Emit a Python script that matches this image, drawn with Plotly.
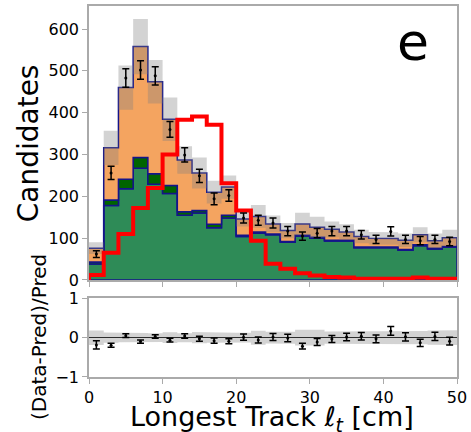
import numpy as np
import plotly.graph_objects as go

# Binning of the longest-track length (cm)
bin_edges = np.arange(0, 51, 2)
bin_centers = bin_edges[:-1] + 1

# Stacked background prediction, one value per 2 cm bin
bkg_seagreen = [38, 178, 218, 267, 229, 207, 155, 160, 125, 148, 104, 112, 108,
                90, 105, 100, 93, 93, 77, 77, 77, 71, 82, 74, 78]
bkg_darkgreen = [5, 13, 23, 26, 25, 19, 8, 6, 8, 7, 3, 3, 2,
                 2, 2, 2, 2, 2, 2, 2, 2, 2, 2, 2, 2]
bkg_orange = [33, 125, 219, 265, 220, 158, 124, 90, 77, 67, 39, 37, 24,
              26, 27, 24, 26, 20, 25, 21, 20, 22, 24, 18, 21]
# Systematic uncertainty on the total prediction
pred_syst = [14, 41, 53, 66, 52, 52, 33, 37, 27, 28, 18, 27, 20,
             18, 27, 25, 19, 18, 16, 15, 15, 16, 18, 17, 19]

# Signal template (red outline)
signal = [12, 65, 110, 172, 220, 300, 383, 391, 371, 231, 166, 94, 39,
          27, 16, 11, 7, 6, 3, 3, 3, 3, 6, 3, 3]

# Observed candidates and their statistical errors
data = [62, 256, 483, 502, 488, 360, 299, 249, 194, 202, 148, 143, 136,
        117, 105, 112, 117, 117, 108, 97, 116, 97, 94, 97, 92]
data_err = [8, 16, 22, 22, 22, 19, 17, 16, 14, 14, 12, 12, 12,
            11, 10, 11, 11, 11, 10, 10, 11, 10, 10, 10, 10]

seagreen = np.array(bkg_seagreen, float)
darkgreen_top = seagreen + np.array(bkg_darkgreen, float)
total = darkgreen_top + np.array(bkg_orange, float)
syst = np.array(pred_syst, float)
obs = np.array(data, float)
obs_err = np.array(data_err, float)

ratio = obs / total - 1.0
ratio_err = obs_err / total
ratio_band = syst / total

FONT = "DejaVu Sans"
NAVY = "#14148a"
FRAME = "#aaaaaa"


def step_path(vals):
    xs = np.repeat(bin_edges, 2)[1:-1]
    ys = np.repeat(np.asarray(vals, float), 2)
    return xs, ys


def band_path(lo, hi):
    xs, yh = step_path(hi)
    _, yl = step_path(lo)
    return np.concatenate([xs, xs[::-1]]), np.concatenate([yh, yl[::-1]])


fig = go.Figure()

# Stacked backgrounds (stepfilled with navy edges)
layers = [
    (np.zeros_like(total), seagreen, "#2e8b57"),
    (seagreen, darkgreen_top, "#006400"),
    (darkgreen_top, total, "#f4a460"),
]
for lo, hi, col in layers:
    px, py = band_path(lo, hi)
    fig.add_trace(go.Scatter(x=px, y=py, mode="lines", fill="toself",
                             fillcolor=col, line=dict(color=NAVY, width=1.5),
                             hoverinfo="skip", showlegend=False,
                             xaxis="x", yaxis="y"))

# Systematic band on the prediction
px, py = band_path(total - syst, total + syst)
fig.add_trace(go.Scatter(x=px, y=py, mode="lines", fill="toself",
                         fillcolor="rgba(128,128,128,0.35)",
                         line=dict(width=0), hoverinfo="skip",
                         showlegend=False, xaxis="x", yaxis="y"))

# Signal outline
sx, sy = step_path(signal)
sx = np.concatenate([[bin_edges[0]], sx, [bin_edges[-1]]])
sy = np.concatenate([[0], sy, [0]])
fig.add_trace(go.Scatter(x=sx, y=sy, mode="lines",
                         line=dict(color="#ff0000", width=4),
                         hoverinfo="skip", showlegend=False,
                         xaxis="x", yaxis="y"))

# Data points
fig.add_trace(go.Scatter(x=bin_centers, y=obs, mode="markers",
                         marker=dict(color="black", size=3),
                         error_y=dict(type="data", array=obs_err,
                                      color="black", thickness=1.5, width=3.5),
                         showlegend=False, xaxis="x", yaxis="y"))

# Ratio panel: band and points
px, py = band_path(-ratio_band, ratio_band)
fig.add_trace(go.Scatter(x=px, y=py, mode="lines", fill="toself",
                         fillcolor="rgba(128,128,128,0.35)",
                         line=dict(width=0), hoverinfo="skip",
                         showlegend=False, xaxis="x2", yaxis="y2"))
fig.add_trace(go.Scatter(x=bin_centers, y=ratio, mode="markers",
                         marker=dict(color="black", size=3),
                         error_y=dict(type="data", array=ratio_err,
                                      color="black", thickness=1.5, width=3.5),
                         showlegend=False, xaxis="x2", yaxis="y2"))

axis_common = dict(showline=True, mirror=True, linecolor=FRAME, linewidth=1.5,
                   ticks="outside", ticklen=5, tickwidth=1.2, tickcolor=FRAME,
                   showgrid=False, zeroline=False, automargin=False,
                   tickfont=dict(family=FONT, size=16, color="black"))

fig.update_layout(
    width=471, height=432,
    margin=dict(l=89, r=14, t=6, b=55),
    paper_bgcolor="white", plot_bgcolor="white",
    font=dict(family=FONT, color="black"),
    xaxis=dict(domain=[0, 1], range=[0, 50], anchor="y",
               tickvals=[0, 10, 20, 30, 40, 50], showticklabels=False,
               **axis_common),
    yaxis=dict(domain=[0.2615, 1], range=[0, 655], anchor="x",
               tickvals=[0, 100, 200, 300, 400, 500, 600], **axis_common),
    xaxis2=dict(domain=[0, 1], range=[0, 50], anchor="y2",
                tickvals=[0, 10, 20, 30, 40, 50], **axis_common),
    yaxis2=dict(domain=[0, 0.212], range=[-1, 1], anchor="x2",
                tickvals=[-1, 0, 1], **axis_common),
)
fig.update_yaxes(zeroline=True, zerolinecolor="black", zerolinewidth=1,
                 selector=dict(anchor="x2"))

annotations = [
    dict(text="Candidates", x=-0.165, y=0.6307, textangle=-90, size=28),
    dict(text="(Data-Pred)/Pred", x=-0.1345, y=0.1065, textangle=-90, size=20),
    dict(text="Longest Track <i>ℓ</i><sub><i>t</i></sub> [cm]", x=0.4986,
         y=-0.113, textangle=0, size=27),
    dict(text="e", x=0.880, y=0.902, textangle=0, size=52),
]
for a in annotations:
    fig.add_annotation(xref="paper", yref="paper", showarrow=False,
                       xanchor="center", yanchor="middle",
                       text=a["text"], x=a["x"], y=a["y"],
                       textangle=a["textangle"],
                       font=dict(family=FONT, color="black", size=a["size"]))

fig.write_html("out.html")
